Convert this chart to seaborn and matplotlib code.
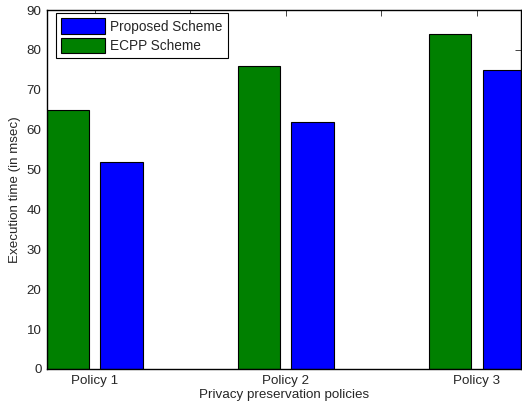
import seaborn as sns
import matplotlib.pyplot as plt
import pandas as pd

policies = ["Policy 1", "Policy 2", "Policy 3"]
ecpp = [65, 76, 84]
proposed = [52, 62, 75]

df = pd.DataFrame({
    "policy": policies * 2,
    "time": ecpp + proposed,
    "scheme": ["ECPP Scheme"] * 3 + ["Proposed Scheme"] * 3,
})

sns.set_style("white")
plt.rcParams["font.family"] = ["Liberation Sans", "DejaVu Sans"]

fig = plt.figure(figsize=(5.22, 4.07), dpi=100)
ax = fig.add_axes([0.090, 0.0934, 0.908, 0.882])

sns.barplot(data=df, x="policy", y="time", hue="scheme",
            hue_order=["ECPP Scheme", "Proposed Scheme"],
            palette=["#008000", "#0000ff"], width=0.56, gap=0.21,
            saturation=1, edgecolor="black", linewidth=0.8, ax=ax)

ax.set_xlim(-0.25, 2.23)
ax.set_ylim(0, 90)
ax.set_xticks([0, 0.5, 1, 1.5, 2])
ax.set_xticklabels(["Policy 1", "", "Policy 2", "", "Policy 3"])
ax.set_yticks(range(0, 91, 10))
ax.tick_params(direction="in", top=True, right=True, length=4, width=0.6,
               labelsize=9.6, pad=4)
for s in ax.spines.values():
    s.set_linewidth(1.0)
    s.set_color("black")
ax.set_xlabel("Privacy preservation policies", fontsize=9.6, labelpad=2)
ax.set_ylabel("Execution time (in msec)", fontsize=9.6, labelpad=4)

h, l = ax.get_legend_handles_labels()
ax.legend([h[1], h[0]], [l[1], l[0]], loc="upper left",
          bbox_to_anchor=(0.019, 0.992), borderaxespad=0, fontsize=9.8,
          frameon=True, fancybox=False, edgecolor="black", framealpha=1,
          handlelength=3.2, handleheight=1.35, borderpad=0.4,
          labelspacing=0.3, handletextpad=0.35)
ax.get_legend().get_frame().set_linewidth(0.8)

fig.savefig("out.png", dpi=100)
